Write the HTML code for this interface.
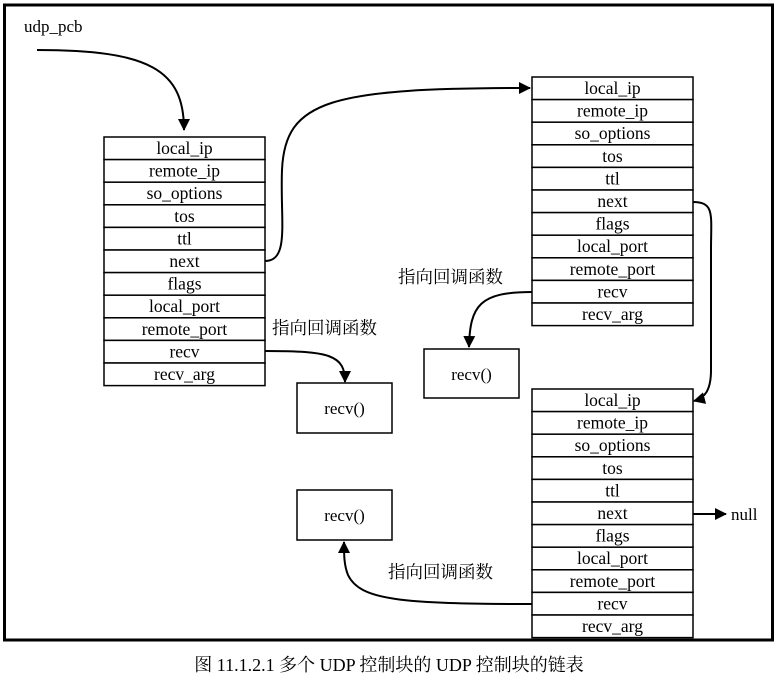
<!DOCTYPE html>
<html><head><meta charset="utf-8"><style>
body{margin:0;background:#fff;}
svg text{font-family:"Liberation Serif","Noto Serif CJK SC",serif;}
</style></head><body>
<svg width="778" height="676" viewBox="0 0 778 676" xmlns="http://www.w3.org/2000/svg">
<defs><marker id="a" markerWidth="12" markerHeight="12" refX="11" refY="6" orient="auto" markerUnits="userSpaceOnUse"><path d="M0,0 L12,6 L0,12 z" fill="#000"/></marker></defs>
<rect x="4.5" y="5" width="768" height="635" fill="none" stroke="#000" stroke-width="3"/>
<text x="24" y="32" font-size="17">udp_pcb</text>
<g fill="none" stroke="#000" stroke-width="2">
<path d="M37,50 C150,50 184,70 184,130" marker-end="url(#a)"/>
<path d="M265,261 C290,261 280,220 282,170 C285,100 330,88 530,88" marker-end="url(#a)"/>
<path d="M265,351 C330,351 345,355 345,382" marker-end="url(#a)"/>
<path d="M532,292 C480,292 470,305 469,347" marker-end="url(#a)"/>
<path d="M693,202 C715,202 711,215 711,250 L711,370 C711,390 705,398 694,401" marker-end="url(#a)"/>
<path d="M693,514 L726,514" marker-end="url(#a)"/>
<path d="M532,604 C400,604 360,600 348,575 C344,565 344,555 344,542" marker-end="url(#a)"/>
</g>
<text x="731" y="520" font-size="17">null</text>
<g font-size="17.5" style="font-family:'Noto Sans CJK SC',sans-serif">
<text x="272" y="334">指向回调函数</text>
<text x="398" y="283">指向回调函数</text>
<text x="388" y="578">指向回调函数</text>
</g>
<g fill="none" stroke="#000" stroke-width="1.5">
<rect x="297" y="383" width="95" height="50"/>
<rect x="424" y="349" width="95" height="49"/>
<rect x="297" y="490" width="95" height="50"/>
</g>
<g font-size="17" text-anchor="middle">
<text x="344.5" y="414">recv()</text>
<text x="471.5" y="380">recv()</text>
<text x="344.5" y="521">recv()</text>
</g>
<text x="389" y="671" font-size="18" text-anchor="middle">图 11.1.2.1 多个 UDP 控制块的 UDP 控制块的链表</text>
<g id="tables"></g>
</svg>
<script>
var labels=["local_ip","remote_ip","so_options","tos","ttl","next","flags","local_port","remote_port","recv","recv_arg"];
var g=document.getElementById("tables"),ns="http://www.w3.org/2000/svg";
[[104,137,161],[532,77,161],[532,389,161]].forEach(function(t){
  var h=22.6;
  for(var i=0;i<11;i++){
    var r=document.createElementNS(ns,"rect");
    r.setAttribute("x",t[0]);r.setAttribute("y",t[1]+i*h);r.setAttribute("width",t[2]);r.setAttribute("height",h);
    r.setAttribute("fill","#fff");r.setAttribute("stroke","#000");r.setAttribute("stroke-width","1.5");
    g.appendChild(r);
    var tx=document.createElementNS(ns,"text");
    tx.setAttribute("x",t[0]+t[2]/2);tx.setAttribute("y",t[1]+i*h+17);
    tx.setAttribute("text-anchor","middle");tx.setAttribute("font-size","17.5");
    tx.textContent=labels[i];g.appendChild(tx);
  }
});
</script>
</body></html>
